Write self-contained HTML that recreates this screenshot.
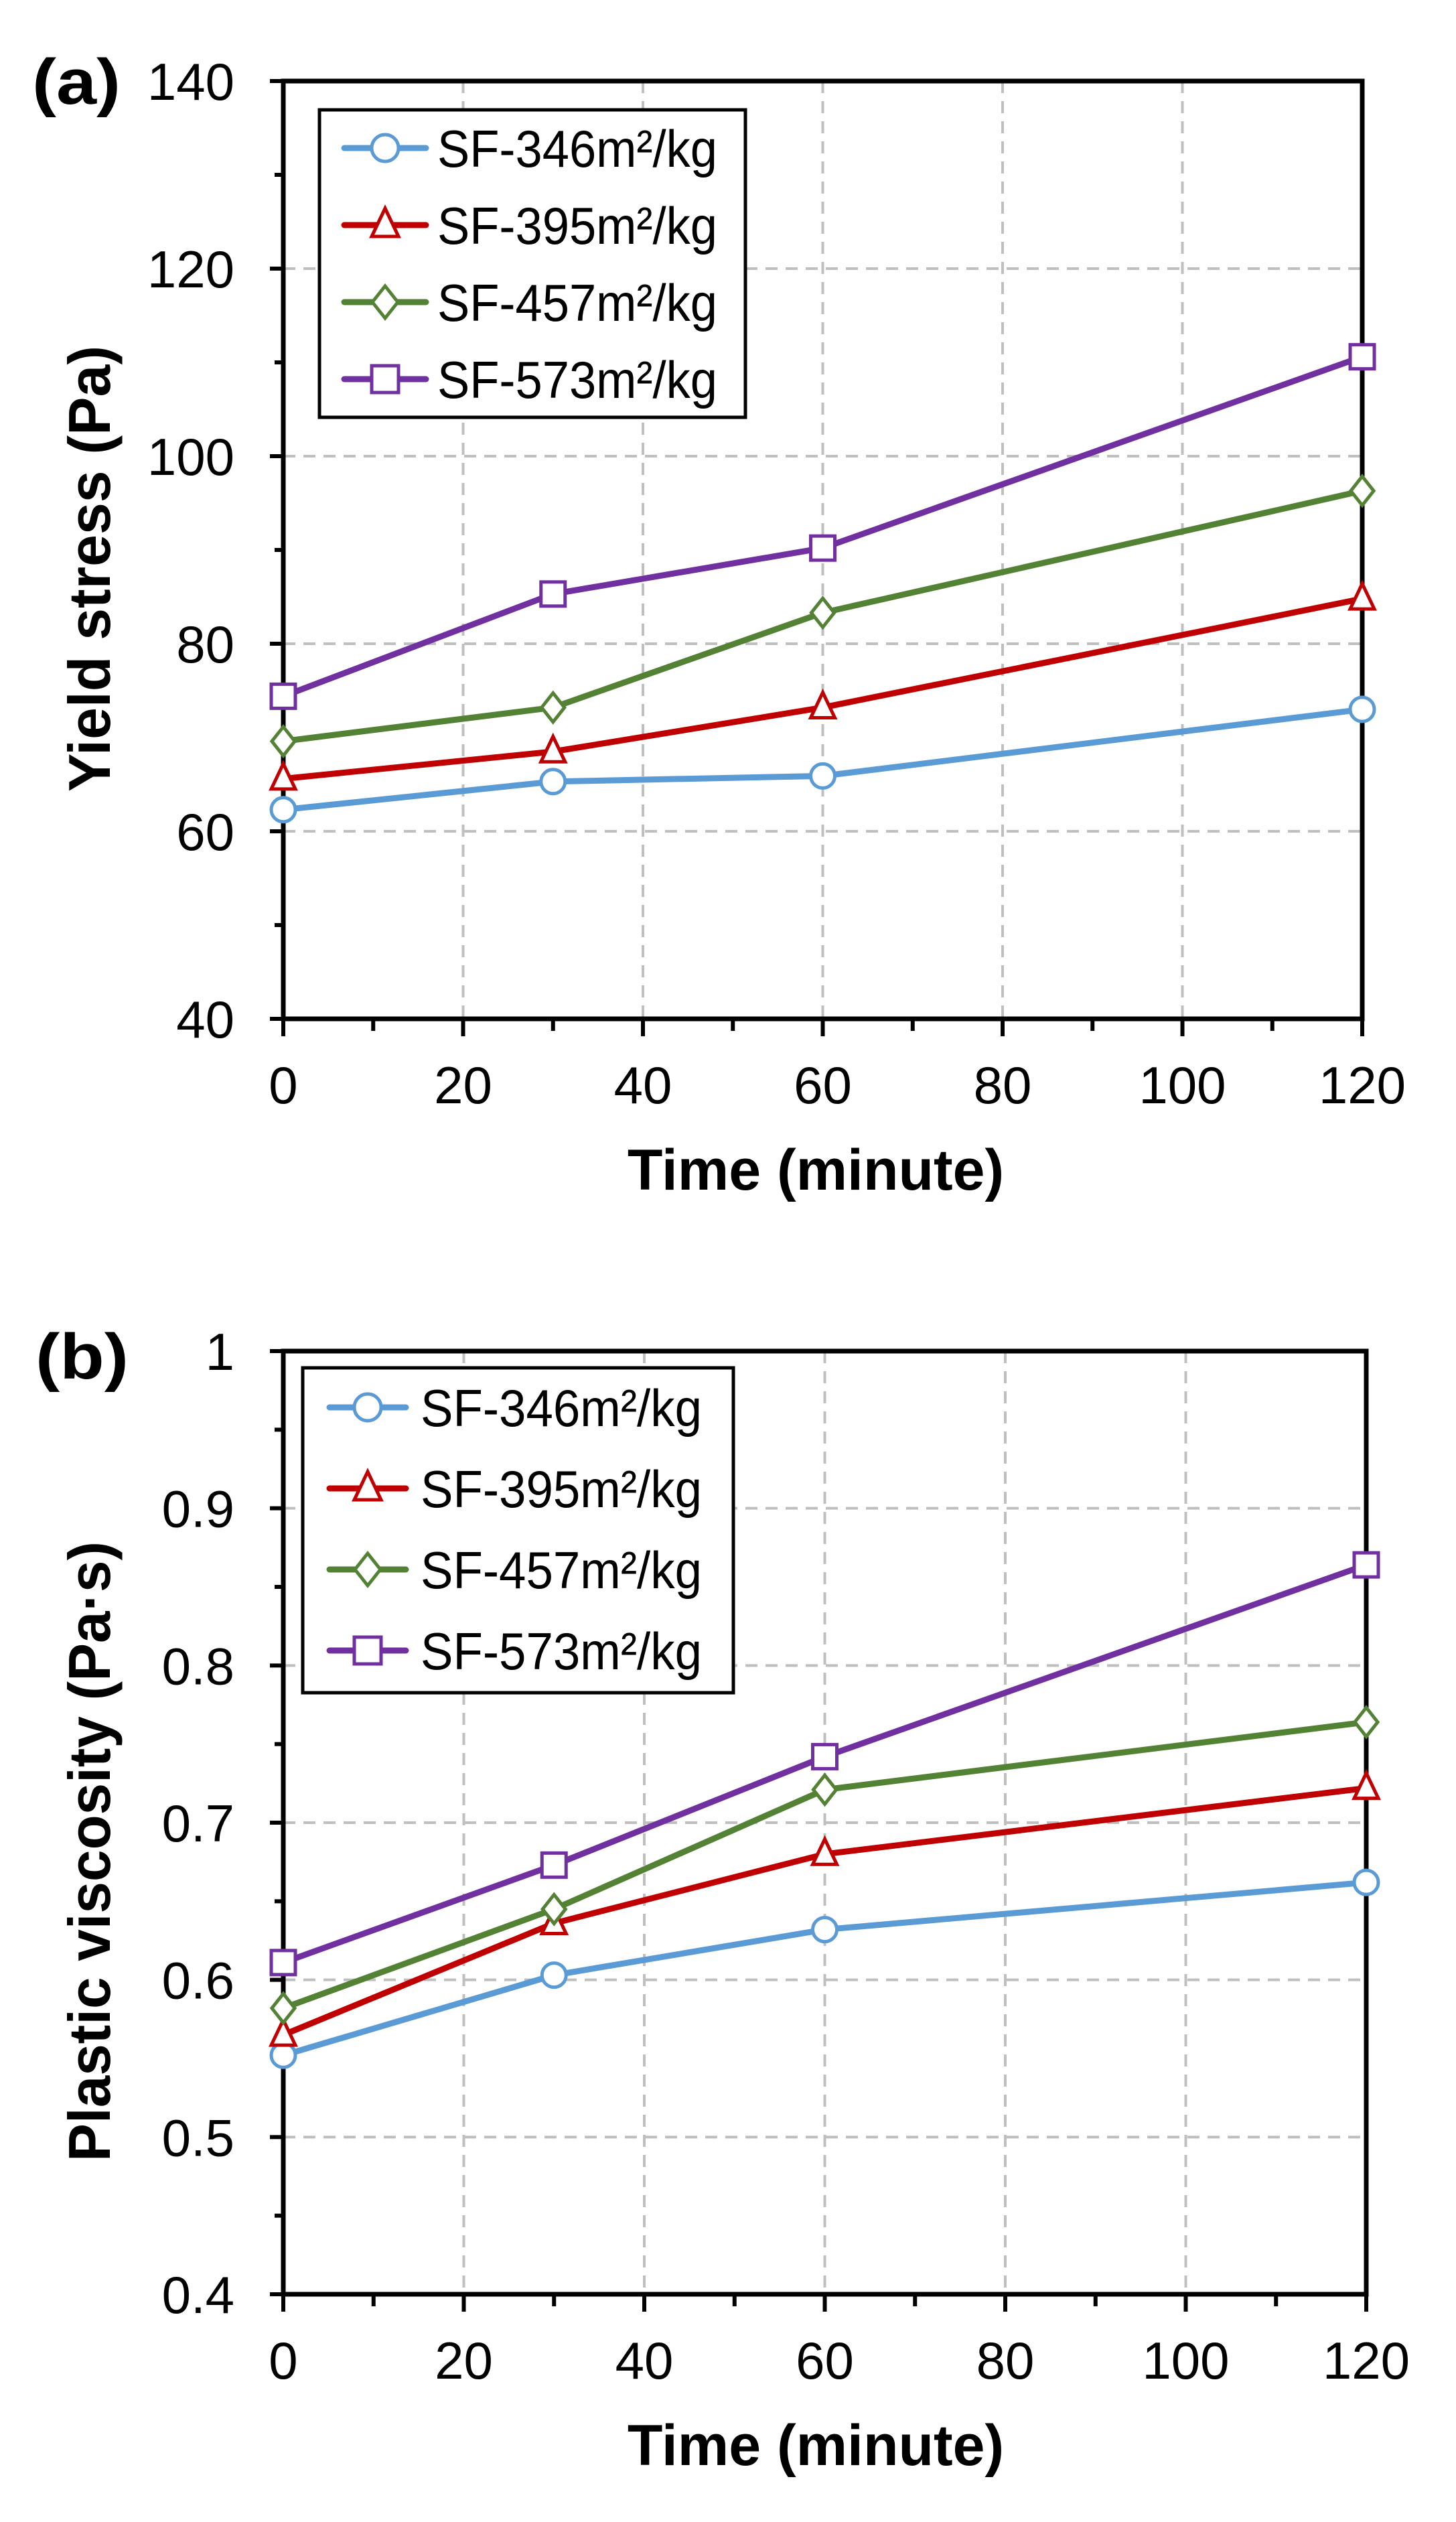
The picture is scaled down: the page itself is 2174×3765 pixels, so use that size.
<!DOCTYPE html>
<html><head><meta charset="utf-8"><style>
html,body{margin:0;padding:0;background:#fff}
svg{display:block}
text{font-family:"Liberation Sans",Arial,sans-serif}
</style></head><body>
<svg id="fig" width="2174" height="3765" viewBox="0 0 2174 3765" xmlns="http://www.w3.org/2000/svg"></svg>
<script>
const times = [0, 30, 60, 120];
const seriesNames = ["SF-346m²/kg", "SF-395m²/kg", "SF-457m²/kg", "SF-573m²/kg"];
const yieldS346 = [62.3, 65.3, 65.9, 73.0];
const yieldS395 = [65.6, 68.5, 73.2, 84.8];
const yieldS457 = [69.6, 73.2, 83.3, 96.3];
const yieldS573 = [74.4, 85.3, 90.2, 110.6];
const viscS346 = [0.552, 0.603, 0.632, 0.662];
const viscS395 = [0.565, 0.636, 0.680, 0.722];
const viscS457 = [0.582, 0.645, 0.721, 0.764];
const viscS573 = [0.611, 0.673, 0.742, 0.864];
const xTicks = [0, 20, 40, 60, 80, 100, 120];
const yTicksA = [40, 60, 80, 100, 120, 140];
const yTicksB = [0.4, 0.5, 0.6, 0.7, 0.8, 0.9, 1];
const yTickLabelsB = ["0.4", "0.5", "0.6", "0.7", "0.8", "0.9", "1"];

const colors = ["#5b9bd5", "#c00000", "#548235", "#7030a0"];
const markers = ["circle", "triangle", "diamond", "square"];
const NS = "http://www.w3.org/2000/svg";
const svg = document.getElementById("fig");

function mk(tag, attrs, parent) {
  const e = document.createElementNS(NS, tag);
  for (const k in attrs) e.setAttribute(k, attrs[k]);
  (parent || svg).appendChild(e);
  return e;
}

function marker(g, type, cx, cy, color, r) {
  let m;
  if (type === "circle") m = mk("circle", {cx: cx, cy: cy, r: r}, g);
  else if (type === "square") m = mk("rect", {x: cx - r, y: cy - r, width: 2 * r, height: 2 * r}, g);
  else if (type === "triangle") m = mk("polygon", {points: `${cx},${cy - r * 1.25} ${cx + r},${cy + r * 0.85} ${cx - r},${cy + r * 0.85}`}, g);
  else m = mk("polygon", {points: `${cx},${cy - r * 1.2} ${cx + r * 0.95},${cy} ${cx},${cy + r * 1.2} ${cx - r * 0.95},${cy}`}, g);
  m.setAttribute("fill", "#fff");
  m.setAttribute("stroke", color);
  m.setAttribute("stroke-width", "5");
  
  
  return m;
}

function panel(cfg) {
  const g = mk("g", {});
  
  
  const L = cfg.left, R = cfg.right, T = cfg.top, B = cfg.bottom;
  const xs = v => L + (v - 0) / 120 * (R - L);
  const ys = v => B - (v - cfg.ymin) / (cfg.ymax - cfg.ymin) * (B - T);

  const grid = mk("g", {stroke: "#bfbfbf", "stroke-width": 4, "stroke-dasharray": "18,12"}, g);
  
  
  xTicks.forEach(v => { if (v > 0 && v < 120) mk("line", {x1: xs(v), x2: xs(v), y1: T, y2: B}, grid); });
  cfg.yticks.forEach(v => { if (v > cfg.ymin && v < cfg.ymax) mk("line", {x1: L, x2: R, y1: ys(v), y2: ys(v)}, grid); });

  const frame = mk("rect", {x: L, y: T, width: R - L, height: B - T, fill: "none", stroke: "#000", "stroke-width": 7}, g);
  
  

  const tk = mk("g", {stroke: "#000", "stroke-width": 6}, g);
  for (let v = 0; v <= 120; v += 10) {
    mk("line", {x1: xs(v), x2: xs(v), y1: B, y2: B + (v % 20 === 0 ? 26 : 18)}, tk);
  }
  const step = (cfg.yticks[1] - cfg.yticks[0]) / 2;
  for (let i = 0; i <= (cfg.ymax - cfg.ymin) / step + 0.01; i++) {
    const v = cfg.ymin + i * step;
    mk("line", {x1: L - (i % 2 === 0 ? 20 : 13), x2: L, y1: ys(v), y2: ys(v)}, tk);
  }
  xTicks.forEach(v => {
    const t = mk("text", {x: xs(v), y: B + 126, "font-size": 78, "text-anchor": "middle"}, g);
    t.textContent = String(v);
    
    
  });
  cfg.yticks.forEach((v, i) => {
    const t = mk("text", {x: 350, y: ys(v) + 28, "font-size": 78, "text-anchor": "end"}, g);
    t.textContent = cfg.ylabels[i];
    
    
  });

  cfg.data.forEach((vals, si) => {
    const sg = mk("g", {}, g);
    
    
    const pts = vals.map((v, i) => xs(times[i]) + "," + ys(v)).join(" ");
    const pl = mk("polyline", {points: pts, fill: "none", stroke: colors[si], "stroke-width": 9, "stroke-linejoin": "round", "stroke-linecap": "round"}, sg);
    
    
    vals.forEach((v, i) => marker(sg, markers[si], xs(times[i]), ys(v), colors[si], 18));
  });

  const lg = mk("g", {}, g);
  
  
  const lb = cfg.legend;
  mk("rect", {x: lb.x, y: lb.y, width: lb.w, height: lb.h, fill: "#fff", stroke: "#000", "stroke-width": 5}, lg);
  seriesNames.forEach((n, si) => {
    const e = mk("g", {}, lg);
    
    
    const cy = lb.row0 + si * lb.dy;
    mk("line", {x1: lb.lx1, x2: lb.lx2, y1: cy, y2: cy, stroke: colors[si], "stroke-width": 9, "stroke-linecap": "round"}, e);
    marker(e, markers[si], (lb.lx1 + lb.lx2) / 2, cy, colors[si], 20);
    const t = mk("text", {x: lb.tx, y: cy + 28, "font-size": 78, textLength: lb.tw, lengthAdjust: "spacingAndGlyphs"}, e);
    t.textContent = n;
  });

  const yt = mk("text", {x: 0, y: 0, "font-size": 88, "font-weight": "bold", "text-anchor": "middle", textLength: cfg.ytl, lengthAdjust: "spacingAndGlyphs", transform: `translate(${cfg.ytx},${cfg.ytc}) rotate(-90)`}, g);
  yt.textContent = cfg.ytitle;
  
  
  const xt = mk("text", {x: 1218, y: B + 255, "font-size": 86, "font-weight": "bold", "text-anchor": "middle"}, g);
  xt.textContent = "Time (minute)";
  
  
  const pl = mk("text", {x: cfg.plx, y: cfg.ply, "font-size": 96, "font-weight": "bold", textLength: cfg.plw, lengthAdjust: "spacingAndGlyphs"}, g);
  pl.textContent = cfg.panelLabel;
  
  
}

panel({name: "panel-a-yield-stress", left: 423, right: 2034, top: 121, bottom: 1521,
  ymin: 40, ymax: 140, yticks: yTicksA, ylabels: yTicksA.map(String),
  data: [yieldS346, yieldS395, yieldS457, yieldS573],
  legend: {x: 477, y: 164, w: 636, h: 459, row0: 221, dy: 115, lx1: 514, lx2: 636, tx: 653, tw: 418},
  ytitle: "Yield stress (Pa)", ytx: 164, ytc: 849, ytl: 666, panelLabel: "(a)", plx: 48, ply: 155, plw: 132});

panel({name: "panel-b-plastic-viscosity", left: 423, right: 2040, top: 2017, bottom: 3425,
  ymin: 0.4, ymax: 1.0, yticks: yTicksB, ylabels: yTickLabelsB,
  data: [viscS346, viscS395, viscS457, viscS573],
  legend: {x: 452, y: 2042, w: 643, h: 485, row0: 2101, dy: 121, lx1: 492, lx2: 606, tx: 628, tw: 420},
  ytitle: "Plastic viscosity (Pa·s)", ytx: 164, ytc: 2764, ytl: 926, panelLabel: "(b)", plx: 53, ply: 2058, plw: 139});
</script>
</body></html>
